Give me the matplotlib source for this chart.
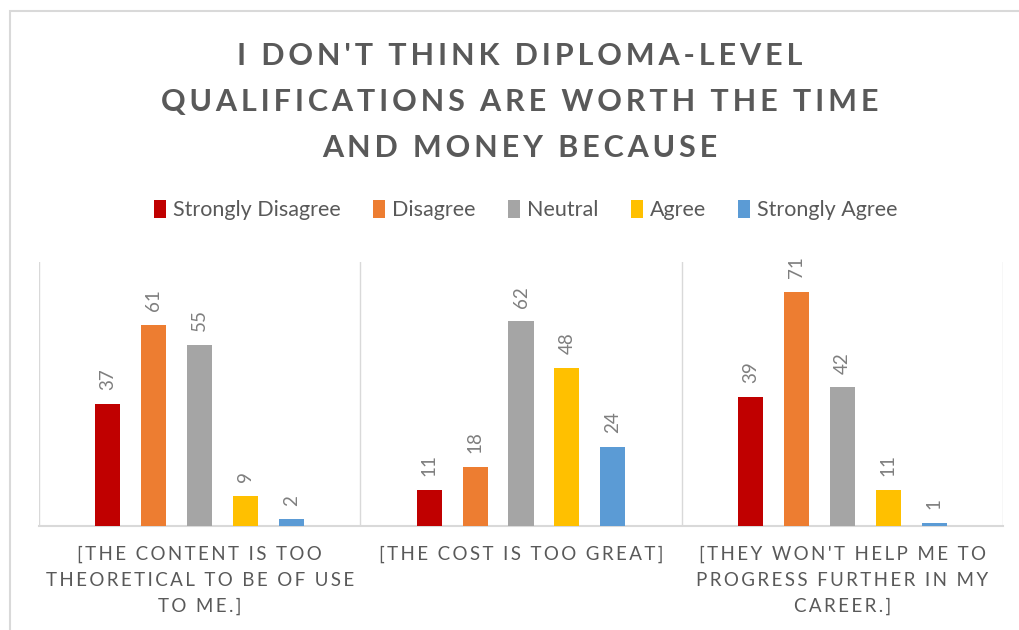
import numpy as np
import matplotlib
matplotlib.use('Agg')
from matplotlib import pyplot as plt
from matplotlib.patches import Rectangle

plt.rcParams['font.family'] = ['Lato', 'DejaVu Sans']

title = "I DON'T THINK DIPLOMA-LEVEL\nQUALIFICATIONS ARE WORTH THE TIME\nAND MONEY BECAUSE"
categories = ["[THE CONTENT IS TOO\nTHEORETICAL TO BE OF USE\nTO ME.]",
              "[THE COST IS TOO GREAT]",
              "[THEY WON'T HELP ME TO\nPROGRESS FURTHER IN MY\nCAREER.]"]
series = ['Strongly Disagree', 'Disagree', 'Neutral', 'Agree', 'Strongly Agree']
values = [
    [37, 11, 39],
    [61, 18, 71],
    [55, 62, 42],
    [9, 48, 11],
    [2, 24, 1],
]
colors = ['#C00000', '#ED7D31', '#A5A5A5', '#FFC000', '#5B9BD5']


def spaced(s, gap='\u2009'):
    # crude letter spacing
    return '\n'.join(gap.join(line) for line in s.split('\n'))


fig = plt.figure(figsize=(10.19, 6.3), dpi=100)
fig.patches.append(Rectangle((10 / 1019, -0.1), 1.2, 1 - 11 / 630 + 0.1,
                             transform=fig.transFigure, fill=False,
                             edgecolor='#d9d9d9', linewidth=1.5))

ax = fig.add_axes([39 / 1019, 1 - 526 / 630, (1003 - 39) / 1019, (526 - 262) / 630])

x = np.arange(len(categories))
step = 0.143
width = 0.078
for i, (name, vals, c) in enumerate(zip(series, values, colors)):
    pos = x + (i - 2) * step
    ax.bar(pos, vals, width=width, color=c, label=name, zorder=3)
    for px, v in zip(pos, vals):
        ax.annotate(str(v), (px, v), xytext=(0, 10), textcoords='offset points',
                    rotation=90, ha='center', va='bottom', fontsize=13.5,
                    color='#7f7f7f')

ax.set_xlim(-0.5, 2.5)
ax.set_ylim(0, 80)
for b in [-0.5, 0.5, 1.5, 2.5]:
    ax.axvline(b, color='#d9d9d9', linewidth=1, zorder=1)
for s in ['top', 'right', 'left']:
    ax.spines[s].set_visible(False)
ax.spines['bottom'].set_color('#d9d9d9')
ax.spines['bottom'].set_linewidth(1.5)
ax.set_yticks([])
ax.set_xticks(x)
ax.set_xticklabels([spaced(c) for c in categories], fontsize=13.5, color='#595959',
                   linespacing=1.65)
ax.tick_params(axis='x', length=0, pad=14)

fig.text(520 / 1019, 1 - 102 / 630, spaced(title), ha='center', va='center',
         fontsize=22, fontweight='bold', color='#595959', linespacing=1.8)

fig.legend(loc='center', bbox_to_anchor=(526 / 1019, 1 - 210 / 630), ncol=5,
           frameon=False, fontsize=15.5, handlelength=0.55, handleheight=0.9,
           handletextpad=0.33, columnspacing=1.5, labelcolor='#595959')

fig.savefig('out.png', dpi=100)
